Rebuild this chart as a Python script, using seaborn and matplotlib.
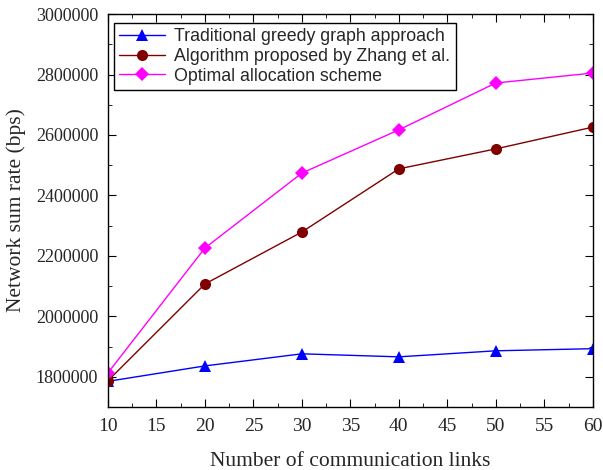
import matplotlib
matplotlib.use("Agg")
import matplotlib.pyplot as plt
import seaborn as sns
import pandas as pd
from matplotlib.ticker import MultipleLocator

links = [10, 20, 30, 40, 50, 60]
greedy = [1785000, 1836000, 1876000, 1866000, 1886000, 1893000]
zhang = [1787000, 2107000, 2279000, 2488000, 2554000, 2626000]
optimal = [1813000, 2226000, 2474000, 2617000, 2772000, 2805000]
names = ["Traditional greedy graph approach",
         "Algorithm proposed by Zhang et al.",
         "Optimal allocation scheme"]

df = pd.DataFrame({
    "links": links * 3,
    "rate": greedy + zhang + optimal,
    "series": [names[0]] * 6 + [names[1]] * 6 + [names[2]] * 6,
})

sns.set_theme(style="ticks")
plt.rcParams["font.family"] = ["Liberation Serif", "DejaVu Serif"]

fig = plt.figure(figsize=(6.03, 4.70), dpi=100)
ax = fig.add_axes([0.179, 0.134, 0.804, 0.836])

palette = {names[0]: "#0000ff", names[1]: "#800000", names[2]: "#ff00ff"}
markers = {names[0]: "^", names[1]: "o", names[2]: "D"}
sns.lineplot(data=df, x="links", y="rate", hue="series", style="series",
             palette=palette, markers=markers, dashes=False, ax=ax,
             linewidth=1.0, markersize=8, markeredgewidth=0, legend=True)
for line in ax.lines:
    if line.get_marker() == "D":
        line.set_markersize(7)

ax.set_xlim(10, 60)
ax.set_ylim(1700000, 3000000)
ax.xaxis.set_major_locator(MultipleLocator(5))
ax.yaxis.set_major_locator(MultipleLocator(200000))
ax.yaxis.set_minor_locator(MultipleLocator(100000))
ax.xaxis.set_minor_locator(MultipleLocator(2.5))
ax.ticklabel_format(style="plain", axis="y", useOffset=False)
ax.tick_params(which="both", direction="in", top=True, right=True, color="black")
ax.tick_params(axis="y", labelsize=13, pad=7)
ax.tick_params(axis="x", labelsize=14, pad=8)
ax.tick_params(which="major", length=6, width=0.8)
ax.tick_params(which="minor", length=3, width=0.6)
for s in ax.spines.values():
    s.set_color("black")
    s.set_linewidth(1.0)

ax.set_xlabel("Number of communication links", fontsize=15.5, labelpad=12)
ax.set_ylabel("Network sum rate (bps)", fontsize=15.5, labelpad=7)

handles, labels = ax.get_legend_handles_labels()
leg = ax.legend(handles, labels, loc="upper left", bbox_to_anchor=(-0.006, 1.0),
                prop={"family": "Liberation Sans", "size": 12.8}, frameon=True,
                fancybox=False, edgecolor="black", framealpha=1,
                handlelength=2.6, borderpad=0.3, labelspacing=0.15, handletextpad=0.5)
leg.get_frame().set_linewidth(1.0)

fig.savefig("out.png", dpi=100)
